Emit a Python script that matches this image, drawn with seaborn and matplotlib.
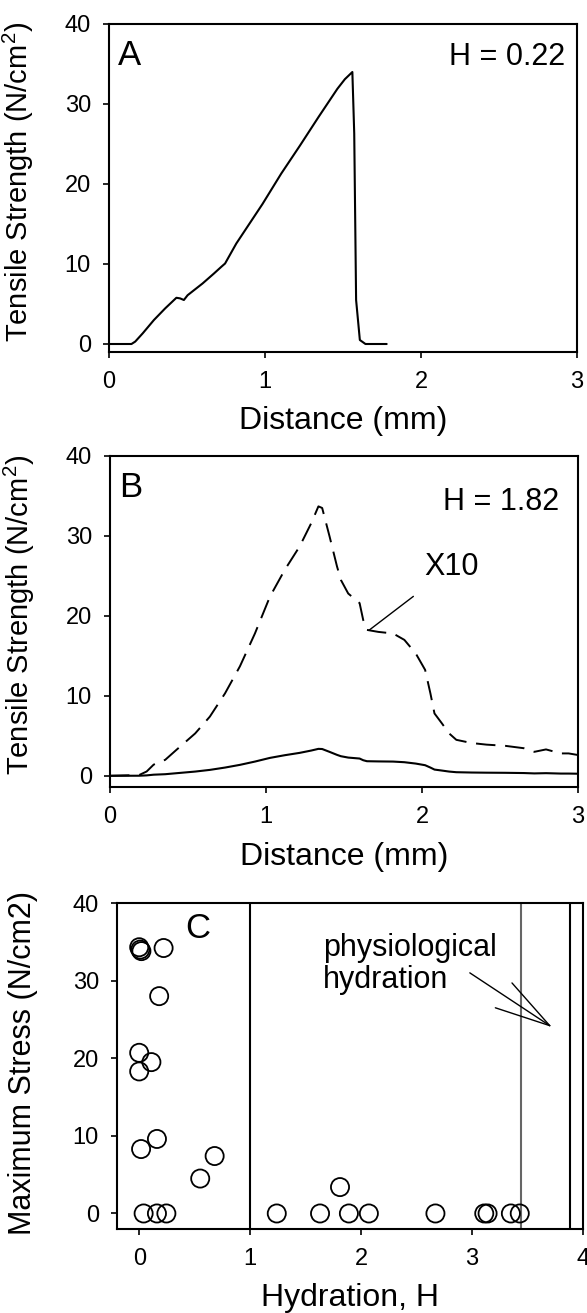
import numpy as np
import pandas as pd
import seaborn as sns
import matplotlib.pyplot as plt

sns.set_theme(style="ticks")
plt.rcParams['font.family'] = ['Liberation Sans', 'DejaVu Sans']
plt.rcParams['mathtext.fontset'] = 'custom'
plt.rcParams['mathtext.rm'] = 'Liberation Sans'
plt.rcParams['mathtext.it'] = 'Liberation Sans:italic'
plt.rcParams['text.color'] = 'black'
plt.rcParams['axes.labelcolor'] = 'black'
plt.rcParams['xtick.color'] = 'black'
plt.rcParams['ytick.color'] = 'black'
plt.rcParams['axes.linewidth'] = 1.5
plt.rcParams['xtick.major.width'] = 1.2
plt.rcParams['ytick.major.width'] = 1.2
plt.rcParams['xtick.major.size'] = 4
plt.rcParams['ytick.major.size'] = 4
plt.rcParams['xtick.major.pad'] = 10
plt.rcParams['ytick.major.pad'] = 9

# panel A, H = 0.22
dist_a = [0, 0.144, 0.168, 0.216, 0.288, 0.36, 0.432, 0.456, 0.48, 0.504, 0.6, 0.672,
          0.72, 0.744, 0.816, 0.984, 1.104, 1.224, 1.344, 1.464, 1.512, 1.56, 1.572,
          1.584, 1.608, 1.644, 1.78]
ts_a = [0, 0, 0.3, 1.33, 3.0, 4.45, 5.78, 5.7, 5.5, 6.1, 7.57, 8.8,
        9.65, 10.06, 12.56, 17.5, 21.3, 24.8, 28.4, 31.9, 33.1, 34.0, 26.3,
        5.5, 0.5, 0, 0]

# panel B, H = 1.82 (dashed curve = measured x10)
dist_b = [0, 0.187, 0.235, 0.28, 0.354, 0.426, 0.546, 0.64, 0.737, 0.833, 0.929, 1.025,
          1.12, 1.216, 1.29, 1.336, 1.36, 1.408, 1.455, 1.48, 1.527, 1.6, 1.623, 1.647,
          1.72, 1.815, 1.887, 1.96, 2.02, 2.054, 2.08, 2.126, 2.174, 2.22, 2.318, 2.413,
          2.533, 2.653, 2.72, 2.795, 2.89, 2.94, 3.0]
ts_b_x10 = [0, 0.1, 0.54, 1.4, 2.0, 3.25, 5.3, 7.4, 10.3, 13.7, 17.8, 22.4,
            25.75, 28.7, 31.6, 33.7, 33.5, 29.9, 26.2, 24.5, 22.8, 21.6, 19.5, 18.25,
            18.0, 17.8, 17.0, 15.3, 13.25, 10.3, 7.8, 6.6, 5.3, 4.5, 4.1, 3.9,
            3.75, 3.45, 3.0, 3.3, 2.8, 2.8, 2.6]
ts_b = [v / 10 for v in ts_b_x10]

# panel C
hydration = [0.0, 0.01, 0.02, 0.22, 0.18, 0.0, 0.0, 0.11, 0.16, 0.017, 0.68, 0.55, 1.81,
             0.04, 0.16, 0.245, 1.24, 1.63, 1.89, 2.07, 2.67, 3.11, 3.14, 3.35, 3.43]
max_stress = [34.3, 34.0, 33.8, 34.2, 28.0, 20.7, 18.3, 19.5, 9.6, 8.3, 7.4, 4.5, 3.4,
              0, 0, 0, 0, 0, 0, 0, 0, 0, 0, 0, 0]
ref_lines = [1.0, 3.44, 3.88]
ref_colors = ['black', '#666666', 'black']

df_a = pd.DataFrame({'d': dist_a, 't': ts_a})
df_b = pd.DataFrame({'d': dist_b, 't': ts_b, 't10': ts_b_x10})
df_c = pd.DataFrame({'h': hydration, 's': max_stress})

W, H = 587, 1313
fig = plt.figure(figsize=(W / 100, H / 100), dpi=100)


def box(l, t, r, b):
    return [l / W, 1 - b / H, (r - l) / W, (b - t) / H]


ax1 = fig.add_axes(box(109, 24, 577, 352))
ax2 = fig.add_axes(box(110, 456, 578, 787))
ax3 = fig.add_axes(box(117, 903, 583, 1229))

tick_fs = 17
lab_fs = 23
ylab_fs = 21

# A
sns.lineplot(data=df_a, x='d', y='t', ax=ax1, color='black', lw=1.5, sort=False)
ax1.set_xlim(0, 3)
ax1.set_ylim(-1, 40)
ax1.set_xticks([0, 1, 2, 3])
ax1.set_yticks([0, 10, 20, 30, 40])
ax1.text(0.02, 0.905, 'A', transform=ax1.transAxes, fontsize=25, va='center', ha='left')
ax1.text(0.975, 0.9, 'H = 0.22', transform=ax1.transAxes, fontsize=22, va='center', ha='right')
ax1.set_ylabel(r'Tensile Strength (N/cm$^{2}$)', fontsize=ylab_fs)
ax1.set_xlabel('Distance (mm)', fontsize=lab_fs)

# B
sns.lineplot(data=df_b, x='d', y='t10', ax=ax2, color='black', lw=1.4, sort=False,
             dashes=False, linestyle=(0, (10, 5)))
sns.lineplot(data=df_b, x='d', y='t', ax=ax2, color='black', lw=1.5, sort=False)
ax2.set_xlim(0, 3)
ax2.set_ylim(-1.4, 40)
ax2.set_xticks([0, 1, 2, 3])
ax2.set_yticks([0, 10, 20, 30, 40])
ax2.text(0.02, 0.906, 'B', transform=ax2.transAxes, fontsize=25, va='center', ha='left')
ax2.text(0.96, 0.862, 'H = 1.82', transform=ax2.transAxes, fontsize=22, va='center', ha='right')
ax2.annotate('X10', xy=(1.66, 18.2), xytext=(2.19, 26.1), fontsize=22,
             ha='center', va='center',
             arrowprops=dict(arrowstyle='-', color='black', lw=1, shrinkA=13, shrinkB=0))
ax2.set_ylabel(r'Tensile Strength (N/cm$^{2}$)', fontsize=ylab_fs)
ax2.set_xlabel('Distance (mm)', fontsize=lab_fs)

# C
for xv, col in zip(ref_lines, ref_colors):
    ax3.axvline(xv, color=col, lw=1.5)
sns.scatterplot(data=df_c, x='h', y='s', ax=ax3, s=170, facecolor='none',
                edgecolor='black', linewidth=1.3, zorder=3)
ax3.set_xlim(-0.2, 4)
ax3.set_ylim(-2, 40)
ax3.set_xticks([0, 1, 2, 3, 4])
ax3.set_yticks([0, 10, 20, 30, 40])
ax3.text(0.146, 0.923, 'C', transform=ax3.transAxes, fontsize=25, va='center', ha='left')
ax3.text(1.66, 32.1, 'physiological\nhydration', fontsize=22, ha='left', va='center',
         linespacing=1.1)
tip = (3.70, 24.2)
for start in [(2.98, 31.0), (3.36, 29.7), (3.21, 26.5)]:
    ax3.annotate('', xy=tip, xytext=start,
                 arrowprops=dict(arrowstyle='-', color='black', lw=1, shrinkA=0, shrinkB=0))
ax3.set_ylabel('Maximum Stress (N/cm2)', fontsize=ylab_fs + 1)
ax3.set_xlabel('Hydration, H', fontsize=lab_fs)

for ax in (ax1, ax2, ax3):
    ax.tick_params(labelsize=tick_fs, direction='out', colors='black')
    for sp in ax.spines.values():
        sp.set_visible(True)
        sp.set_color('black')
    ax.xaxis.set_label_coords(0.5, -0.165)
    ax.set_facecolor('white')

ax1.yaxis.set_label_coords(-0.155, 0.52)
ax2.yaxis.set_label_coords(-0.155, 0.52)
ax3.yaxis.set_label_coords(-0.17, 0.51)

fig.savefig('out.png', dpi=100, facecolor='white')
